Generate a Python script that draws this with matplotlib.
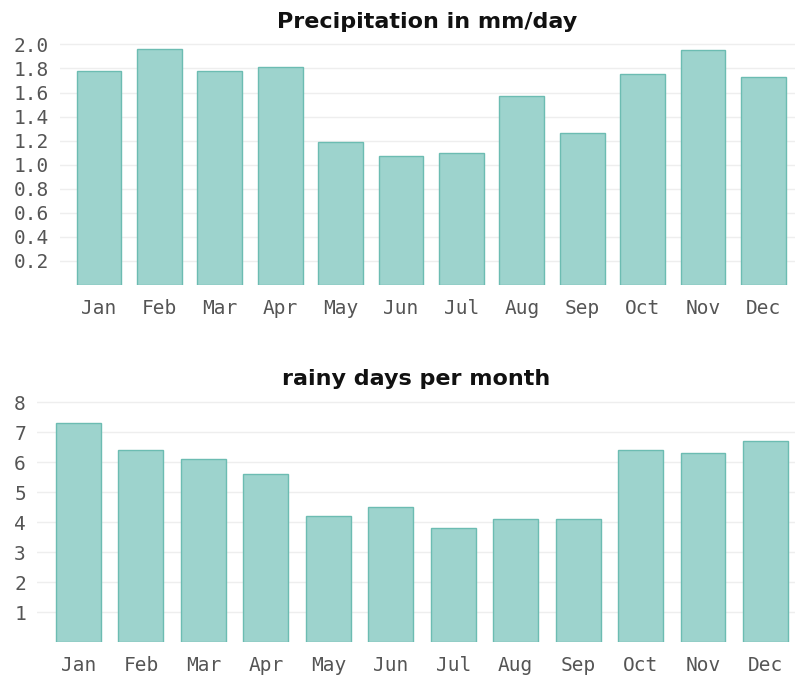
import matplotlib
matplotlib.use("Agg")
import matplotlib.pyplot as plt

months = ["Jan", "Feb", "Mar", "Apr", "May", "Jun", "Jul", "Aug", "Sep", "Oct", "Nov", "Dec"]
precip_mm_day = [1.78, 1.96, 1.78, 1.81, 1.19, 1.07, 1.10, 1.57, 1.26, 1.75, 1.95, 1.73]
rainy_days = [7.3, 6.4, 6.1, 5.6, 4.2, 4.5, 3.8, 4.1, 4.1, 6.4, 6.3, 6.7]
precip_ticks = [0.2, 0.4, 0.6, 0.8, 1.0, 1.2, 1.4, 1.6, 1.8, 2.0]
rainy_ticks = [1, 2, 3, 4, 5, 6, 7, 8]

FILL = "#9dd3cd"
EDGE = "#6cbcb2"
GRID = "#eeeeee"
TICKC = "#555555"
W, H = 800, 678

fig = plt.figure(figsize=(W / 100, H / 100), dpi=100)

def px_axes(left, right, top, bottom):
    return fig.add_axes([left / W, 1 - bottom / H, (right - left) / W, (bottom - top) / H])

def style(ax, title, ticks, fmt):
    for s in ax.spines.values():
        s.set_visible(False)
    ax.set_yticks(ticks)
    ax.set_yticklabels([fmt(t) for t in ticks])
    ax.set_xticks(range(len(months)))
    ax.set_xticklabels(months)
    ax.tick_params(length=0, labelsize=14, labelcolor=TICKC, pad=8)
    for lab in ax.get_xticklabels() + ax.get_yticklabels():
        lab.set_family("DejaVu Sans Mono")
    ax.grid(axis="y", color=GRID, linewidth=1)
    ax.set_axisbelow(True)
    ax.set_title(title, fontsize=16, fontweight="bold", color="#111111", pad=10)

ax1 = px_axes(60, 795, 42, 285)
x = range(len(months))
ax1.bar(x, precip_mm_day, width=0.74, color=FILL, edgecolor=EDGE, linewidth=1.0)
ax1.set_xlim(-0.646, 11.523)
ax1.set_ylim(0, 2.02)
style(ax1, "Precipitation in mm/day", precip_ticks, lambda t: f"{t:.1f}")
ax1.tick_params(axis="x", pad=10)

ax2 = px_axes(37, 795, 399, 642)
ax2.bar(x, rainy_days, width=0.72, color=FILL, edgecolor=EDGE, linewidth=1.0)
ax2.set_xlim(-0.665, 11.473)
ax2.set_ylim(0, 8.1)
style(ax2, "rainy days per month", rainy_ticks, lambda t: f"{t:d}")
ax2.tick_params(axis="x", pad=10)

fig.savefig("out.png", dpi=100)
